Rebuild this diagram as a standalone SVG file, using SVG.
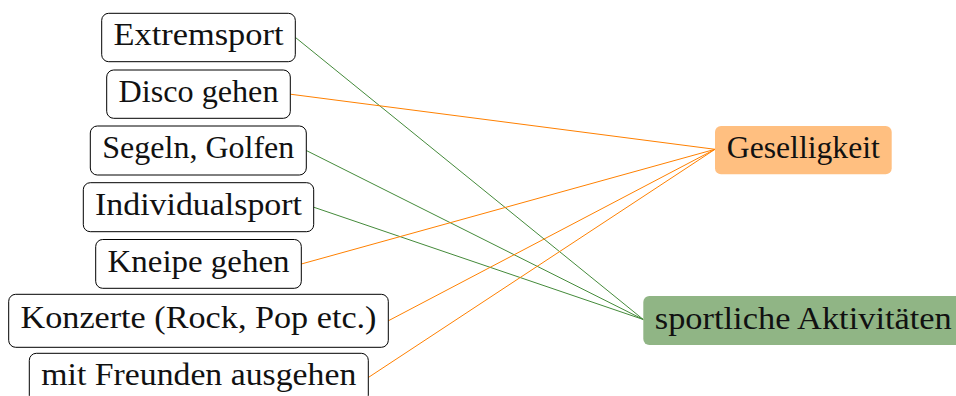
<svg xmlns="http://www.w3.org/2000/svg" width="956" height="396" viewBox="0 0 956 396">
<style>
.src rect{fill:#fff;stroke:#000;stroke-width:1}
text{font-family:"Liberation Serif","Times New Roman",serif;font-size:32px;fill:#111;text-anchor:middle}
.og{stroke:#ff8000;stroke-width:1;fill:none}
.gr{stroke:#448a3a;stroke-width:1;fill:none}
</style>
<rect width="956" height="396" fill="#fff"/>
<g id="connectors">
<line class="gr" x1="295.5" y1="37.5" x2="643.3" y2="319.5"/>
<line class="og" x1="290.3" y1="94.2" x2="715" y2="149.3"/>
<line class="gr" x1="306.3" y1="150.5" x2="643.3" y2="319.5"/>
<line class="gr" x1="313.7" y1="207.2" x2="643.3" y2="319.5"/>
<line class="og" x1="301.3" y1="264" x2="715" y2="149.3"/>
<line class="og" x1="388.3" y1="320.8" x2="715" y2="149.3"/>
<line class="og" x1="368.3" y1="377.5" x2="715" y2="149.3"/>
</g>
<g id="extremsport" class="src"><rect x="101.7" y="13.3" width="193.6" height="48.4" rx="7"/><text x="198.5" y="45" textLength="170" lengthAdjust="spacingAndGlyphs">Extremsport</text></g>
<g id="disco" class="src"><rect x="106.7" y="70" width="183.6" height="48.3" rx="7"/><text x="198.5" y="101.7" textLength="160" lengthAdjust="spacingAndGlyphs">Disco gehen</text></g>
<g id="segeln" class="src"><rect x="90.3" y="126" width="216" height="49" rx="7"/><text x="198.3" y="158" textLength="192" lengthAdjust="spacingAndGlyphs">Segeln, Golfen</text></g>
<g id="individualsport" class="src"><rect x="83.3" y="182.7" width="230.4" height="49" rx="7"/><text x="198.5" y="214.7" textLength="207" lengthAdjust="spacingAndGlyphs">Individualsport</text></g>
<g id="kneipe" class="src"><rect x="95.7" y="239.5" width="205.6" height="48.8" rx="7"/><text x="198.5" y="271.5" textLength="182" lengthAdjust="spacingAndGlyphs">Kneipe gehen</text></g>
<g id="konzerte" class="src"><rect x="8.7" y="294.3" width="379.6" height="53" rx="7"/><text x="198.5" y="328.3" textLength="356" lengthAdjust="spacingAndGlyphs">Konzerte (Rock, Pop etc.)</text></g>
<g id="freunde" class="src"><rect x="29.3" y="353.3" width="339" height="49" rx="7"/><text x="198.8" y="385" textLength="315" lengthAdjust="spacingAndGlyphs">mit Freunden ausgehen</text></g>
<g id="geselligkeit"><rect x="715" y="126" width="176.7" height="48.3" rx="6" fill="#ffbf80"/><text x="803.3" y="158" textLength="153" lengthAdjust="spacingAndGlyphs">Geselligkeit</text></g>
<g id="sportlich"><rect x="643.3" y="296" width="321" height="49" rx="6" fill="#90b585"/><text x="803.3" y="328.5" textLength="297" lengthAdjust="spacingAndGlyphs">sportliche Aktivitäten</text></g>
</svg>
